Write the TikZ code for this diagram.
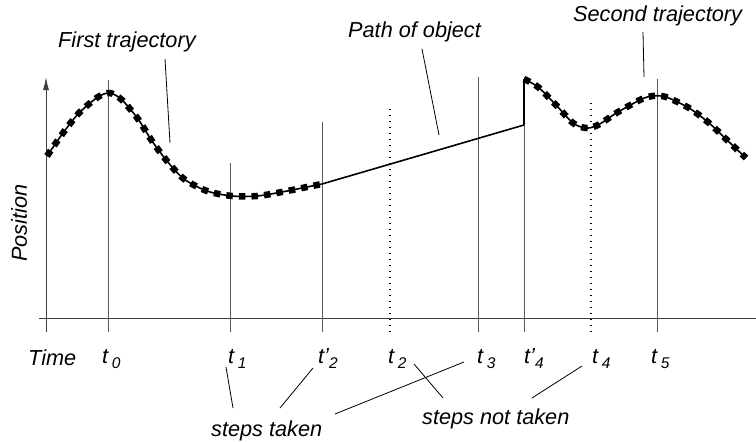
\documentclass[tikz,border=0pt]{standalone}
\usepackage{fontspec}
\setmainfont{Liberation Sans}
\usetikzlibrary{arrows.meta}
\begin{document}
\begin{tikzpicture}[x=1pt,y=-1pt,
  lbl/.style={font=\fontsize{21.7}{24}\selectfont\itshape, inner sep=0pt, anchor=base west},
  tickline/.style={draw=black!65, line width=1pt},
  dotline/.style={draw=black, line width=1.4pt, dash pattern=on 1.4pt off 4.6pt},
  leader/.style={draw=black, line width=0.8pt},
  curve/.style={draw=black, line width=1.6pt},
  marks/.style={draw=black, line width=6.5pt, dash pattern=on 6.5pt off 6.1pt},
  axis/.style={draw=black!75, line width=1pt}]
\useasboundingbox (0,0) rectangle (756,442);
\newcommand{\sbs}[1]{\raisebox{-0.45ex}{\fontsize{15.5}{16}\selectfont #1}}
% axes
\coordinate (ax0) at (39,318);
\coordinate (ax1) at (756,318);
\coordinate (ay0) at (46,332);
\coordinate (ay1) at (46,77);
\draw[axis] (ax0) -- (ax1);
\draw[axis, -{Latex[length=13pt,width=6pt]}] (ay0) -- (ay1);
% tick lines
\coordinate (b0) at (108,332); \coordinate (a0) at (108,80);
\coordinate (b1) at (230,332); \coordinate (a1) at (230,163);
\coordinate (b2p) at (322,332); \coordinate (a2p) at (322,122);
\coordinate (b2) at (390,332); \coordinate (a2) at (390,108);
\coordinate (b3) at (478,332); \coordinate (a3) at (478,77);
\coordinate (b4p) at (524,332); \coordinate (a4p) at (524,77);
\coordinate (b4) at (591,332); \coordinate (a4) at (591,99);
\coordinate (b5) at (657,332); \coordinate (a5) at (657,79);
\draw[tickline] (b0) -- (a0);
\draw[tickline] (b1) -- (a1);
\draw[tickline] (b2p) -- (a2p);
\draw[dotline] (b2) -- (a2);
\draw[tickline] (b3) -- (a3);
\draw[tickline] (b4p) -- (a4p);
\draw[dotline] (b4) -- (a4);
\draw[tickline] (b5) -- (a5);
% first trajectory
\def\firstpts{(47,156) (63,133) (79,113) (98,97) (110,93) (122,100) (138,119) (152,141) (167,161) (184,179) (207,191) (232,196) (257,196) (282,192) (307,187) (322,184)}
\draw[curve] plot[smooth] coordinates {\firstpts};
\draw[marks] plot[smooth] coordinates {\firstpts};
% straight part
\coordinate (j1) at (322,184);
\coordinate (j2) at (524,125);
\coordinate (j3) at (524,79);
\draw[curve] (j1) -- (j2);
\draw[draw=black, line width=2.2pt] (j2) -- (j3);
% second trajectory
\def\secondpts{(524,79) (538,87) (556,105) (573,123) (586,128) (598,125) (618,112) (642,99) (653,96) (666,97) (689,108) (709,123) (728,141) (746,158)}
\draw[curve] plot[smooth] coordinates {\secondpts};
\draw[marks] plot[smooth] coordinates {\secondpts};
% labels
\node[lbl, rotate=90, anchor=center] (pos) at (19,223) {Position};
\node[lbl] (time) at (28,365) {Time};
\node[lbl] (t0) at (102,363) {t\,\sbs{0}};
\node[lbl] (t1) at (228,363) {t\,\sbs{1}};
\node[lbl] (t2p) at (318,363) {t’\sbs{2}};
\node[lbl] (t2) at (388,363) {t\,\sbs{2}};
\node[lbl] (t3) at (477,363) {t\,\sbs{3}};
\node[lbl] (t4p) at (524,363) {t’\sbs{4}};
\node[lbl] (t4) at (592,363) {t\,\sbs{4}};
\node[lbl] (t5) at (651,363) {t\,\sbs{5}};
\node[lbl] (first) at (58,47) {First trajectory};
\node[lbl] (pathobj) at (348,37) {Path of object};
\node[lbl] (second) at (573,21) {Second trajectory};
\node[lbl] (taken) at (211,436) {steps taken};
\node[lbl] (nottaken) at (422,424) {steps not taken};
% leaders
\coordinate (lf1) at (165,59); \coordinate (lf2) at (170,143);
\draw[leader] (lf1) -- (lf2);
\coordinate (lp1) at (422,49); \coordinate (lp2) at (439,135);
\draw[leader] (lp1) -- (lp2);
\coordinate (ls1) at (643,32); \coordinate (ls2) at (644,77);
\draw[leader] (ls1) -- (ls2);
\coordinate (l11) at (226,367); \coordinate (l12) at (233,408);
\draw[leader] (l11) -- (l12);
\coordinate (l21) at (313,368); \coordinate (l22) at (280,408);
\draw[leader] (l21) -- (l22);
\coordinate (l31) at (464,362); \coordinate (l32) at (335,414);
\draw[leader] (l31) -- (l32);
\coordinate (l41) at (414,364); \coordinate (l42) at (443,398);
\draw[leader] (l41) -- (l42);
\coordinate (l51) at (582,366); \coordinate (l52) at (532,398);
\draw[leader] (l51) -- (l52);
\end{tikzpicture}
\end{document}
